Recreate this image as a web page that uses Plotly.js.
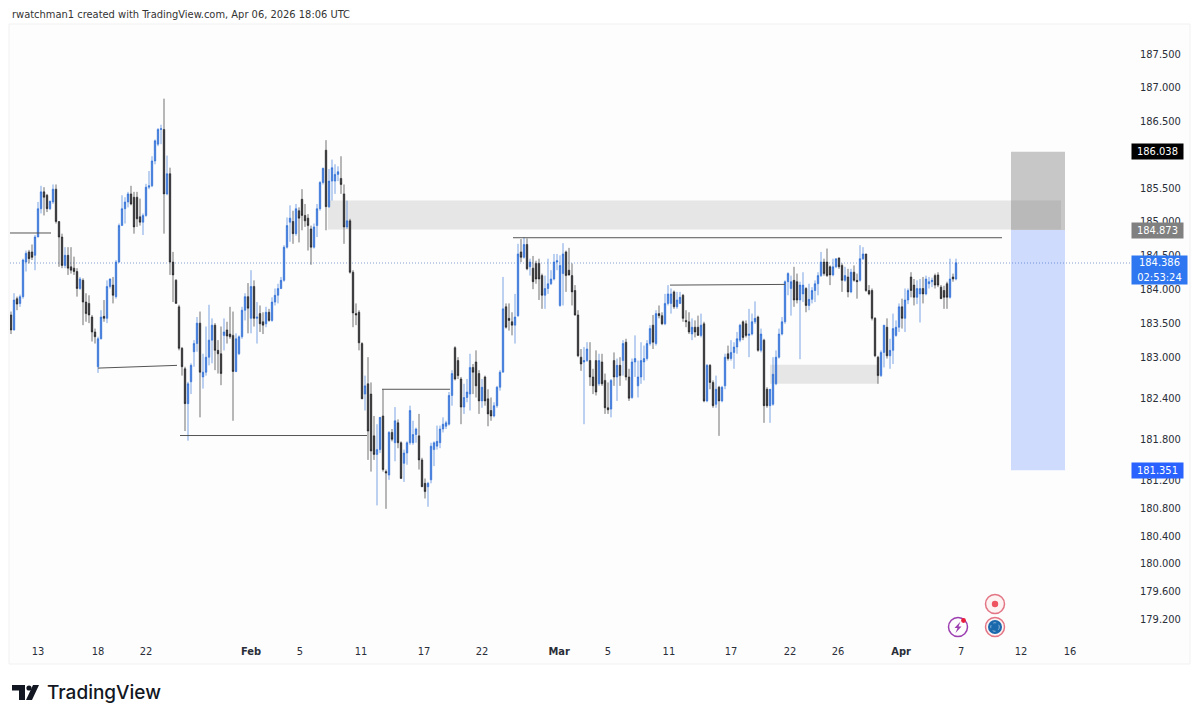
<!DOCTYPE html>
<html>
<head>
<meta charset="utf-8">
<script src="https://cdn.plot.ly/plotly-3.0.1.min.js"></script>
<style>html,body{margin:0;padding:0;background:#fff}#c{width:1200px;height:720px}</style>
</head>
<body>
<div id="c"></div>
<script>
const opens = [
183.62,183.40,183.86,183.79,183.89,184.40,184.55,184.55,184.50,184.77,
185.19,185.44,185.39,185.19,185.29,185.48,185.00,184.77,184.35,184.50,
184.33,184.31,184.26,184.01,184.13,183.81,183.79,183.59,183.37,182.86,
183.27,183.60,183.57,184.04,184.06,183.89,184.40,184.94,185.19,185.29,
185.41,185.36,185.36,185.07,184.99,185.09,185.51,185.53,185.90,186.15,
186.37,186.37,185.41,185.71,184.40,184.13,183.74,183.13,182.83,182.32,
182.64,183.08,183.20,183.50,182.71,182.78,183.00,183.25,183.47,183.10,
183.05,183.32,183.40,183.34,183.32,182.79,183.05,183.30,183.69,183.89,
183.57,184.04,183.57,
183.64,183.52,183.49,183.66,183.54,183.81,183.91,184.01,184.13,184.62,
184.99,185.00,184.82,185.16,185.33,185.09,185.05,184.89,184.62,184.94,
185.19,185.58,186.06,185.22,185.60,185.60,185.70,185.64,185.41,184.92,
185.01,184.25,183.64,183.66,183.20,182.46,182.61,182.46,181.85,181.58,
181.65,182.14,181.33,181.28,181.90,181.75,182.04,181.75,181.45,181.60,
181.75,181.75,181.87,181.85,181.50,181.16,181.11,181.21,181.65,181.70,
181.75,181.95,181.99,182.02,182.44,183.14,182.95,182.68,182.27,182.41,
182.46,182.85,182.93,182.76,182.36,182.71,182.39,182.22,182.14,182.29,
182.56,182.78,183.74,183.57,183.52,183.47,
183.61,184.55,184.47,184.66,184.33,184.31,184.38,184.38,184.20,183.91,
184.01,184.08,184.15,184.40,183.76,184.23,184.55,184.28,184.20,183.98,
183.62,183.00,182.93,182.95,182.95,182.71,182.95,182.61,182.93,182.66,
182.26,182.24,182.95,182.71,182.88,182.95,183.22,182.71,182.41,182.93,
182.58,182.71,182.93,182.98,183.20,183.47,183.20,183.64,183.61,183.49,
183.79,183.79,183.96,183.74,183.79,183.91,183.54,183.52,183.34,183.44,
183.44,183.32,183.49,182.36,182.88,182.63,182.31,182.56,182.36,182.58,
183.05,182.98,183.07,183.15,
183.25,183.52,183.49,183.32,183.34,183.52,183.59,183.10,183.25,182.53,
182.29,182.31,182.61,183.00,183.34,183.52,184.11,184.01,184.13,184.11,
183.84,183.93,184.01,183.76,183.85,183.98,184.08,184.20,184.40,184.40,
184.33,184.21,184.33,184.46,184.35,184.13,184.18,183.96,184.25,184.13,
184.13,184.45,184.52,
183.98,183.98,183.57,183.00,182.73,183.07,183.44,183.02,183.10,183.32,
183.44,183.74,183.57,183.84,184.18,184.06,183.88,183.93,184.01,183.93,
184.08,184.11,184.20,184.21,184.03,183.98,184.08,183.88,184.18,184.15];
const highs = [
183.67,183.94,183.89,183.92,184.45,184.57,184.58,184.66,184.80,185.29,
185.53,185.51,185.41,185.31,185.55,185.55,185.00,184.82,184.62,184.62,
184.62,184.48,184.31,184.18,184.16,183.94,183.91,183.62,183.42,183.30,
183.69,183.84,184.13,184.16,184.18,184.43,184.97,185.39,185.36,185.44,
185.53,185.44,185.44,185.34,185.12,185.56,185.75,185.97,186.22,186.39,
186.44,186.83,185.98,185.80,184.55,184.15,183.77,183.15,182.86,182.64,
182.91,183.25,183.59,183.67,183.05,183.45,183.77,183.57,183.50,183.25,
183.45,183.57,183.52,183.74,183.67,183.35,183.32,183.74,183.94,184.09,
184.28,184.13,183.81,
183.76,183.66,183.74,183.71,183.88,184.01,184.08,184.18,184.65,185.06,
185.24,185.16,185.26,185.21,185.48,185.26,185.11,184.94,184.97,185.26,
185.60,185.80,186.21,185.78,185.92,185.85,185.82,185.97,185.55,185.31,
185.04,184.28,183.79,183.69,183.22,182.73,183.00,182.63,182.14,182.02,
182.12,182.53,181.36,181.92,181.95,182.27,182.09,181.77,181.65,181.77,
182.29,182.07,181.97,182.17,181.53,181.23,181.18,181.75,181.77,182.00,
182.00,182.12,182.07,182.49,182.81,183.16,183.00,182.71,182.61,182.68,
183.05,182.90,183.10,182.81,182.68,182.73,182.53,182.41,182.34,182.58,
182.81,184.18,183.79,183.79,183.66,183.93,
184.67,184.74,184.77,184.75,184.45,184.49,184.42,184.45,184.23,184.20,
184.45,184.28,184.52,184.52,184.50,184.68,184.57,184.61,184.38,184.06,
183.69,183.12,183.15,183.22,183.22,182.83,183.10,183.05,183.05,182.76,
182.63,182.68,183.07,182.98,183.00,183.25,183.27,182.83,182.98,183.32,
182.95,183.22,183.17,183.25,183.47,183.62,183.69,183.76,183.66,183.93,
184.06,184.01,183.98,183.96,183.96,183.93,183.69,183.66,183.57,183.54,
183.61,183.64,183.52,182.90,182.90,182.66,182.73,182.58,182.58,183.05,
183.17,183.25,183.22,183.37,
183.49,183.54,183.54,183.71,183.64,183.82,183.61,183.42,183.27,182.56,
182.53,183.00,183.10,183.42,183.59,184.13,184.25,184.20,184.33,184.23,
184.11,184.25,184.03,184.08,184.03,184.13,184.25,184.55,184.45,184.60,
184.35,184.45,184.45,184.47,184.38,184.33,184.30,184.30,184.35,184.23,
184.65,184.62,184.52,
184.06,184.01,183.59,183.02,183.10,183.47,183.57,183.27,183.64,183.54,
183.79,183.86,184.01,184.01,184.25,184.15,184.13,184.15,184.18,184.20,
184.18,184.17,184.23,184.25,184.06,184.05,184.11,184.45,184.23,184.45];
const lows = [
183.34,183.39,183.69,183.74,183.86,184.26,184.38,184.43,184.28,184.77,
185.12,185.09,185.14,185.17,185.26,184.97,184.33,184.31,184.31,184.21,
184.23,184.21,183.89,183.99,183.47,183.52,183.50,183.23,183.20,182.77,
183.26,183.52,183.50,184.01,183.79,183.86,184.39,184.94,184.97,185.21,
185.24,184.82,184.92,184.94,184.80,185.07,185.48,185.51,185.85,186.12,
186.15,184.82,185.39,184.21,183.81,183.79,183.10,182.73,181.92,181.78,
182.46,182.86,183.08,182.12,182.54,182.73,182.88,182.91,182.81,182.76,
182.59,183.10,183.20,183.27,182.07,182.78,183.03,183.27,183.54,183.35,
183.35,183.45,183.20,
183.37,183.34,183.44,183.52,183.52,183.76,183.79,184.00,184.11,184.60,
184.70,184.67,184.79,184.69,184.87,184.92,184.57,184.36,184.60,184.77,
185.16,185.55,184.87,185.20,185.31,185.41,185.60,185.41,184.67,184.89,
184.23,183.44,183.47,183.10,182.39,182.22,181.50,181.33,181.50,180.84,
181.60,181.33,180.79,181.21,181.77,181.48,181.67,181.23,181.18,181.43,
181.72,181.72,181.75,181.36,181.11,180.94,180.82,181.16,181.41,181.65,
181.67,181.90,181.95,182.00,182.29,182.66,182.68,182.02,182.17,182.34,
182.22,182.46,182.41,182.17,182.26,182.29,181.99,182.07,182.12,182.26,
182.51,182.78,183.42,183.39,183.32,183.20,
183.59,184.40,184.45,184.28,184.20,184.00,184.08,183.84,183.71,183.71,
183.93,184.06,184.13,184.28,183.74,183.76,183.96,184.20,183.76,183.61,
183.00,182.80,182.02,182.93,182.58,182.46,182.44,182.58,182.58,182.17,
182.17,182.12,182.58,182.36,182.58,182.73,182.66,182.36,182.39,182.71,
182.41,182.61,182.66,182.95,183.17,183.12,183.17,183.57,183.47,183.47,
183.76,183.64,183.71,183.71,183.78,183.52,183.44,183.34,183.25,183.29,
183.32,183.29,182.34,182.34,182.53,182.26,182.26,181.85,182.34,182.53,
182.95,182.95,182.83,183.05,
183.22,183.25,183.29,183.00,183.32,183.49,183.08,183.07,182.04,182.26,
182.04,182.29,182.59,182.98,183.32,183.49,183.91,183.61,183.74,183.79,
182.97,183.81,183.66,183.69,183.79,183.81,183.91,184.18,184.20,184.18,
184.06,184.19,184.31,184.30,183.96,184.11,183.88,183.94,184.11,183.86,
184.11,184.43,183.96,
183.91,183.54,183.00,182.61,182.71,182.85,182.98,182.83,182.90,183.30,
183.37,183.42,183.37,183.78,183.88,183.76,183.78,183.51,183.79,183.91,
184.01,184.03,184.01,184.03,183.86,183.71,183.71,183.86,184.11,184.13];
const closes = [
183.40,183.84,183.78,183.89,184.43,184.53,184.45,184.47,184.77,185.19,
185.44,185.36,185.19,185.30,185.48,185.00,184.77,184.35,184.50,184.31,
184.28,184.26,184.01,184.15,183.81,183.64,183.62,183.37,183.30,183.27,
183.59,183.57,184.04,184.15,183.91,184.40,184.94,185.19,185.29,185.41,
185.26,184.92,185.04,184.99,185.09,185.51,185.53,185.90,186.20,186.37,
186.38,185.41,185.71,184.40,184.21,183.79,183.13,182.86,182.32,182.61,
182.88,183.20,183.50,182.78,182.78,183.00,183.25,183.47,183.10,183.05,
182.76,183.37,183.31,183.30,182.79,183.27,183.30,183.69,183.89,183.72,
184.04,183.57,183.59,
183.49,183.47,183.66,183.54,183.81,183.91,184.01,184.13,184.62,184.94,
185.05,184.82,185.19,185.05,185.09,185.01,184.94,184.62,184.92,185.19,
185.58,185.79,185.22,185.60,185.80,185.70,185.74,185.55,184.92,185.01,
184.25,183.65,183.62,183.21,182.39,182.58,181.92,181.63,181.58,181.65,
182.12,181.36,181.31,181.90,181.80,182.07,181.75,181.23,181.60,181.75,
182.22,181.87,181.95,181.50,181.11,181.04,181.16,181.70,181.75,181.77,
181.95,182.02,182.04,182.44,182.76,182.68,182.73,182.27,182.41,182.49,
182.85,182.78,182.58,182.36,182.56,182.36,182.17,182.14,182.29,182.56,
182.78,183.71,183.44,183.54,183.47,183.59,
184.52,184.47,184.66,184.30,184.40,184.11,184.15,184.15,183.91,184.01,
184.08,184.15,184.40,184.42,184.35,184.52,184.20,184.21,183.96,183.62,
183.02,182.90,182.95,183.12,182.71,182.58,182.49,182.95,182.61,182.26,
182.23,182.66,182.71,182.88,182.73,183.20,182.71,182.40,182.93,182.98,
182.71,182.95,182.98,183.20,183.42,183.22,183.64,183.61,183.49,183.79,
183.93,183.93,183.74,183.84,183.88,183.57,183.52,183.37,183.44,183.37,
183.32,183.47,182.36,182.88,182.63,182.29,182.53,182.36,182.56,183.00,
182.98,183.07,183.15,183.27,
183.47,183.29,183.32,183.34,183.52,183.57,183.10,183.34,182.29,182.29,
182.53,182.75,183.00,183.34,183.52,184.11,184.23,184.11,183.84,183.84,
184.06,184.06,183.76,183.85,183.98,184.08,184.20,184.40,184.23,184.20,
184.21,184.33,184.45,184.33,184.13,184.20,183.96,184.25,184.13,184.11,
184.45,184.52,183.98,
183.93,183.57,183.02,182.73,183.07,183.47,183.02,183.10,183.42,183.44,
183.74,183.57,183.84,183.98,183.98,183.88,184.01,184.01,183.93,184.15,
184.11,184.13,184.06,184.06,183.86,183.88,183.88,184.15,184.15,184.39];

const priceTicks = [187.5,187,186.5,185.5,185,184.5,184,183.5,183,182.4,181.8,181.2,180.8,180.4,180,179.6,179.2];
const dateLabels = ['13','18','22','<b>Feb</b>','5','11','17','22','<b>Mar</b>','5','11','17','22','26','<b>Apr</b>','7','12','16'];
const dateBars = [9,29,45,80,96.3,116.7,137.7,157,182.7,199,219.3,240,259.7,275.7,296.7,316.7,336.7,353];

const lastPrice = 184.386, stopPrice = 186.038, entryPrice = 184.873, targetPrice = 181.351;
const zoneTop = [185.31, 184.88];
const zoneLow = [182.89, 182.61];

/* pixel helpers for page furniture */
const plotL=10, plotR=1120, plotT=25, plotB=640;
const bar = p => (p-11)/3;
const X = p => (p-plotL)/(plotR-plotL);
const Y = p => (plotB-p)/(plotB-plotT);

const FONT = '"DejaVu Sans Condensed", "Noto Sans", sans-serif';
const INK = '#2a2e39';

function seg(x0,y0,x1,y1){
  return {type:'line',xref:'x',yref:'y',layer:'above',x0:bar(x0),x1:bar(x1),y0:y0,y1:y1,line:{color:'#555',width:1}};
}
function rect(x0,x1,y0,y1,fill,layer){
  return {type:'rect',xref:'x',yref:'y',layer:layer||'below',x0:bar(x0),x1:bar(x1),y0:y0,y1:y1,fillcolor:fill,line:{width:0}};
}
function circ(cx,cy,r,fill,lineC,lw,dash){
  return {type:'circle',xref:'paper',yref:'paper',layer:'above',
    x0:X(cx-r),x1:X(cx+r),y0:Y(cy+r),y1:Y(cy-r),
    fillcolor:fill,line:{color:lineC||'rgba(0,0,0,0)',width:lw||0,dash:dash||'solid'}};
}
function poly(pts,fill){
  const d = pts.map((q,i)=>(i?'L':'M')+X(q[0])+','+Y(q[1])).join(' ')+' Z';
  return {type:'path',xref:'paper',yref:'paper',layer:'above',path:d,fillcolor:fill,line:{width:0}};
}
function tag(txt,priceV,bg,h,w){
  return {xref:'paper',yref:'y',x:X(1131),y:Math.log10(priceV),xanchor:'left',yanchor:'middle',
    text:txt,showarrow:false,bgcolor:bg,width:w||51,height:h||15,borderpad:0,
    font:{family:FONT,size:11,color:'#fff'},align:'center'};
}

const shapes = [
  {type:'rect',xref:'paper',yref:'paper',layer:'below',x0:X(9),x1:X(1190),y0:Y(664),y1:Y(24),fillcolor:'#fdfdfd',line:{color:'#f1f1f1',width:1}},
  rect(328,1061,zoneTop[0],zoneTop[1],'#e6e6e6'),
  rect(770,878,zoneLow[0],zoneLow[1],'#e6e6e6'),
  rect(1011,1065,stopPrice,entryPrice,'rgba(117,117,117,0.4)'),
  rect(1011,1065,entryPrice,targetPrice,'rgba(41,98,255,0.22)'),
  {type:'line',xref:'paper',yref:'y',layer:'below',x0:X(10),x1:X(1131),y0:lastPrice,y1:lastPrice,line:{color:'rgba(90,125,195,0.75)',width:1,dash:'1px,2px'}},
  seg(10,184.83,51,184.83),
  seg(98,182.84,177,182.88),
  seg(180,181.855,367,181.855),
  seg(382,182.53,450,182.53),
  seg(513,184.76,1002,184.76),
  seg(670,184.06,785,184.07),
  /* event icons */
  circ(995,604,9.5,'#fdf3f3','#e37585',1.5),
  circ(995,604,3.2,'#ee5560'),
  circ(995,627,9.5,'#fdf3f3','#e37585',1.5),
  circ(995,627,7,'#1b69ad'),
  circ(995,627,4.3,'rgba(0,0,0,0)','#8fb6d6',1,'dot'),
  circ(958,627,9.5,'#fdfdfd','#9c3fb0',1.5),
  circ(963.5,620.5,2.4,'#e91e3c'),
  poly([[960.5,621.5],[954.5,628],[957.5,628],[955.5,633],[961.5,626.5],[958.5,626.5]],'#9c3fb0'),
  /* logo */
  poly([[12,685],[25,685],[25,700],[19,700],[19,690.5],[12,690.5]],'#131722'),
  poly([[33,685],[39,685],[32,700],[26,700]],'#131722'),
  circ(29,688,2.6,'#131722')
];

const trace = {
  type:'candlestick',
  x: opens.map((_,i)=>i),
  open:opens, high:highs, low:lows, close:closes,
  width:0.55,
  whiskerwidth:0,
  increasing:{line:{color:'rgba(46,111,214,0.62)',width:1},fillcolor:'#2f6fd8'},
  decreasing:{line:{color:'rgba(30,30,34,0.62)',width:1},fillcolor:'#232327'},
  hoverinfo:'skip'
};

const layout = {
  width:1200,height:720,
  margin:{l:plotL,r:1200-plotR,t:plotT,b:720-plotB,pad:0},
  paper_bgcolor:'#ffffff',plot_bgcolor:'rgba(0,0,0,0)',
  showlegend:false,
  font:{family:FONT,color:INK,size:11},
  xaxis:{type:'linear',range:[bar(plotL),bar(plotR)],rangeslider:{visible:false},
    tickmode:'array',tickvals:dateBars,ticktext:dateLabels,ticks:'',showgrid:false,zeroline:false,showline:false,
    tickfont:{family:FONT,size:11,color:INK},automargin:false,ticklabelstandoff:3,fixedrange:true},
  yaxis:{type:'log',side:'right',range:[2.25261,2.27401],
    tickmode:'array',tickvals:priceTicks,ticktext:priceTicks.map(v=>v.toFixed(3)),ticks:'',showgrid:false,zeroline:false,showline:false,
    tickfont:{family:FONT,size:11,color:INK},automargin:false,ticklabelstandoff:19,fixedrange:true},
  shapes:shapes,
  annotations:[
    tag(stopPrice.toFixed(3),stopPrice,'#000000'),
    tag(entryPrice.toFixed(3),entryPrice,'#808080'),
    tag(lastPrice.toFixed(3)+'<br>02:53:24',lastPrice+(-0.1),'#2e77f0',28,55),
    tag(targetPrice.toFixed(3),targetPrice,'#2962ff'),
    {xref:'paper',yref:'paper',x:X(10),y:Y(14),xanchor:'left',yanchor:'middle',showarrow:false,
      text:'rwatchman1 created with TradingView.com, Apr 06, 2026 18:06 UTC',
      font:{family:FONT,size:11,color:'#333'}},
    {xref:'paper',yref:'paper',x:X(45),y:Y(692),xanchor:'left',yanchor:'middle',showarrow:false,
      text:'TradingView',font:{family:'Inter, Roboto, sans-serif',size:19,color:'#131722',weight:500}}
  ]
};
Plotly.newPlot('c',[trace],layout,{displayModeBar:false,staticPlot:true});
</script>
</body>
</html>
